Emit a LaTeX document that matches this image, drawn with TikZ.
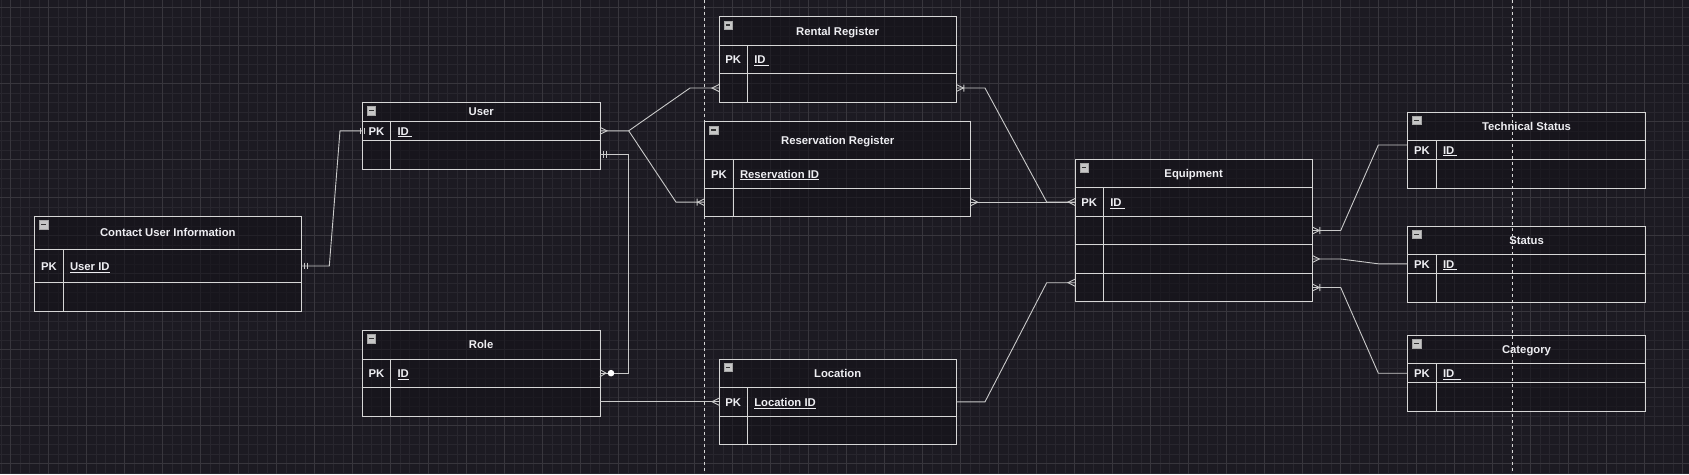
\documentclass[tikz,border=0pt]{standalone}
\usepackage{fontspec}
\setmainfont{Liberation Sans}
\definecolor{bgcol}{HTML}{1C1A22}
\definecolor{minorcol}{HTML}{28262E}
\definecolor{majorcol}{HTML}{38363D}
\definecolor{linecol}{HTML}{D6D6D6}
\definecolor{conncol}{HTML}{CACACA}
\definecolor{txtcol}{HTML}{EEEEF2}
\definecolor{boxfill}{HTML}{131118}
\tikzset{
  tline/.style={draw=linecol, line width=0.9pt},
  conn/.style={draw=conncol, line width=0.9pt},
  hdrbox/.style={tline, rectangle, fill=boxfill, fill opacity=0.55, text opacity=1, inner sep=0pt, outer sep=0pt,
    text=txtcol, font=\fontsize{11.3}{13}\selectfont\bfseries, text height=8.1pt, text depth=0pt},
  rowbox/.style={tline, rectangle, fill=boxfill, fill opacity=0.55, inner sep=0pt, outer sep=0pt},
  txt/.style={inner sep=0pt, outer sep=0pt, text=txtcol, font=\fontsize{11.3}{13}\selectfont\bfseries, text height=8.1pt, text depth=0pt},
  minusbox/.style={draw=gray!70, fill=gray!45!white, minimum size=8.4pt, inner sep=0pt, outer sep=0pt, rectangle},
  minusbar/.style={draw=black!80, line width=1.3pt},
  crowmany/.pic={\draw[conn] (0,-3.5) -- (7,0) -- (0,3.5);},
  onemany/.pic={\draw[conn] (0,-3.5) -- (7,0) -- (0,3.5) (7.6,-3.5) -- (7.6,3.5);},
  mandone/.pic={\draw[conn] (3.3,-3.3) -- (3.3,3.3) (6.7,-3.3) -- (6.7,3.3);},
  zeromany/.pic={\draw[conn] (0,-3.5) -- (6,0) -- (0,3.5); \fill[white] (11,0) circle (3.3);},
}
\newcommand\ertitle[6]{%
  \node[hdrbox, minimum width={(#4-#2)*1pt}, minimum height={(#5-#3)*1pt}, anchor=north west] (#1) at (#2,#3) {#6};
  \node[minusbox, anchor=north west] (#1-min) at ([shift={(4.7,4)}]#1.north west) {};
  \draw[minusbar] ([xshift=1.8pt]#1-min.west) -- ([xshift=-1.8pt]#1-min.east);
}
\newcommand\errow[7]{%
  \node[rowbox, minimum width={(#4-#2)*1pt}, minimum height={(#5-#3)*1pt}, anchor=north west] (#1) at (#2,#3) {};
  \draw[tline] ({#2+28.5},#3) -- ({#2+28.5},#5);
  \node[txt] at ({#2+14.25},{(#3+#5)/2+0.4}) {#6};
  \node[txt, anchor=west] at ({#2+35.3},{(#3+#5)/2+0.4}) {#7};
}
\begin{document}
\begin{tikzpicture}[x=1pt,y=-1pt]
\useasboundingbox (0,0) rectangle (1689,474);
\fill[bgcol] (0,0) rectangle (1689,474);
% grid
\foreach \i in {0,...,178} {\draw[minorcol, line width=0.6pt] ({1.2+9.5*\i},0) -- ++(0,474);}
\foreach \i in {0,...,50} {\draw[minorcol, line width=0.6pt] (0,{-2.2+9.5*\i}) -- ++(1689,0);}
\foreach \i in {0,...,44} {\draw[majorcol, line width=0.7pt] ({10.7+38*\i},0) -- ++(0,474);}
\foreach \i in {0,...,12} {\draw[majorcol, line width=0.7pt] (0,{7.3+38*\i}) -- ++(1689,0);}

% tables
\ertitle{contact}{34.7}{216.3}{301}{249.3}{Contact User Information}
\errow{contact-r1}{34.7}{249.3}{301}{282.7}{PK}{\underline{User ID}}
\errow{contact-r2}{34.7}{282.7}{301}{311.3}{}{}

\ertitle{user}{362.3}{102.3}{600}{121.3}{User}
\errow{user-r1}{362.3}{121.3}{600}{140.3}{PK}{\underline{ID\ }}
\errow{user-r2}{362.3}{140.3}{600}{169}{}{}

\ertitle{role}{362.3}{330.3}{600}{359}{Role}
\errow{role-r1}{362.3}{359}{600}{387.3}{PK}{\underline{ID}}
\errow{role-r2}{362.3}{387.3}{600}{416}{}{}

\ertitle{rental}{719}{16.7}{956.3}{45.3}{Rental Register}
\errow{rental-r1}{719}{45.3}{956.3}{73.7}{PK}{\underline{ID\ }}
\errow{rental-r2}{719}{73.7}{956.3}{102.3}{}{}

\ertitle{resv}{704.7}{121.7}{970.7}{159.3}{Reservation Register}
\errow{resv-r1}{704.7}{159.3}{970.7}{188}{PK}{\underline{Reservation ID}}
\errow{resv-r2}{704.7}{188}{970.7}{216.3}{}{}

\ertitle{loc}{719}{359}{956.3}{387.7}{Location}
\errow{loc-r1}{719}{387.7}{956.3}{416}{PK}{\underline{Location ID}}
\errow{loc-r2}{719}{416}{956.3}{444.3}{}{}

\ertitle{equip}{1075}{159.3}{1312.3}{187.7}{Equipment}
\errow{equip-r1}{1075}{187.7}{1312.3}{216.3}{PK}{\underline{ID\ }}
\errow{equip-r2}{1075}{216.3}{1312.3}{244.7}{}{}
\errow{equip-r3}{1075}{244.7}{1312.3}{273.3}{}{}
\errow{equip-r4}{1075}{273.3}{1312.3}{301.7}{}{}

\ertitle{tech}{1407.7}{112}{1645.3}{140.3}{Technical Status}
\errow{tech-r1}{1407.7}{140.3}{1645.3}{159.3}{PK}{\underline{ID\ }}
\errow{tech-r2}{1407.7}{159.3}{1645.3}{188}{}{}

\ertitle{status}{1407.7}{226}{1645.3}{254.3}{Status}
\errow{status-r1}{1407.7}{254.3}{1645.3}{273.3}{PK}{\underline{ID\ }}
\errow{status-r2}{1407.7}{273.3}{1645.3}{302}{}{}

\ertitle{cat}{1407.7}{335.3}{1645.3}{363.7}{Category}
\errow{cat-r1}{1407.7}{363.7}{1645.3}{382.7}{PK}{\underline{ID\ \ }}
\errow{cat-r2}{1407.7}{382.7}{1645.3}{411.3}{}{}

% dashed guides
\coordinate (g1t) at (704.3,0); \coordinate (g1b) at (704.3,474);
\coordinate (g2t) at (1512.7,0); \coordinate (g2b) at (1512.7,474);
\draw[linecol, line width=0.8pt, dash pattern=on 3pt off 3pt] (g1t) -- (g1b);
\draw[linecol, line width=0.8pt, dash pattern=on 3pt off 3pt] (g2t) -- (g2b);

% connectors
\draw[conn] (contact-r1.east) -- ++(28.3,0) -- ([xshift=-22.3pt]user-r1.west) -- (user-r1.west);
\draw[conn] (user-r1.east) -- ++(28.7,0) coordinate (fork1) -- ([xshift=-29pt]rental-r2.west) -- (rental-r2.west);
\draw[conn] (fork1) -- ([xshift=-28.7pt]resv-r2.west) -- (resv-r2.west);
\draw[conn] (user-r2.east) -- ++(28.3,0) |- (role-r1.east);
\draw[conn] (role-r2.east) -- (role-r2.east -| loc-r1.west);
\draw[conn] (rental-r2.east) -- ++(28.7,0) -- ([xshift=-28.3pt]equip-r1.west) -- (equip-r1.west);
\draw[conn] (resv-r2.east) -- (resv-r2.east -| equip-r1.west);
\draw[conn] (loc-r1.east) -- ++(28.7,0) -- ([xshift=-28.3pt,yshift=4.8pt]equip-r4.west) -- ([yshift=4.8pt]equip-r4.west);
\draw[conn] (equip-r2.east) -- ++(28.4,0) -- ([xshift=-29.4pt,yshift=4.8pt]tech-r1.west) -- ([yshift=4.8pt]tech-r1.west);
\draw[conn] (equip-r3.east) -- ++(28.4,0) -- ([xshift=-29.4pt]status-r1.west) -- (status-r1.west);
\draw[conn] (equip-r4.east) -- ++(28.4,0) -- ([xshift=-29.4pt]cat-r1.west) -- (cat-r1.west);

% end markers
\pic at (contact-r1.east) {mandone};
\pic[xscale=-1] at ([xshift=5pt]user-r1.west) {mandone};
\pic at (user-r1.east) {crowmany};
\pic[xscale=-1] at (rental-r2.west) {crowmany};
\pic[xscale=-1] at (resv-r2.west) {onemany};
\pic at (user-r2.east) {mandone};
\pic at (role-r1.east) {zeromany};
\pic[xscale=-1] at (role-r2.east -| loc-r1.west) {crowmany};
\pic at (rental-r2.east) {onemany};
\pic[xscale=-1] at (equip-r1.west) {crowmany};
\pic at (resv-r2.east) {crowmany};
\pic[xscale=-1] at ([yshift=4.8pt]equip-r4.west) {crowmany};
\pic at (equip-r2.east) {onemany};
\pic at (equip-r3.east) {crowmany};
\pic at (equip-r4.east) {onemany};
\end{tikzpicture}
\end{document}
